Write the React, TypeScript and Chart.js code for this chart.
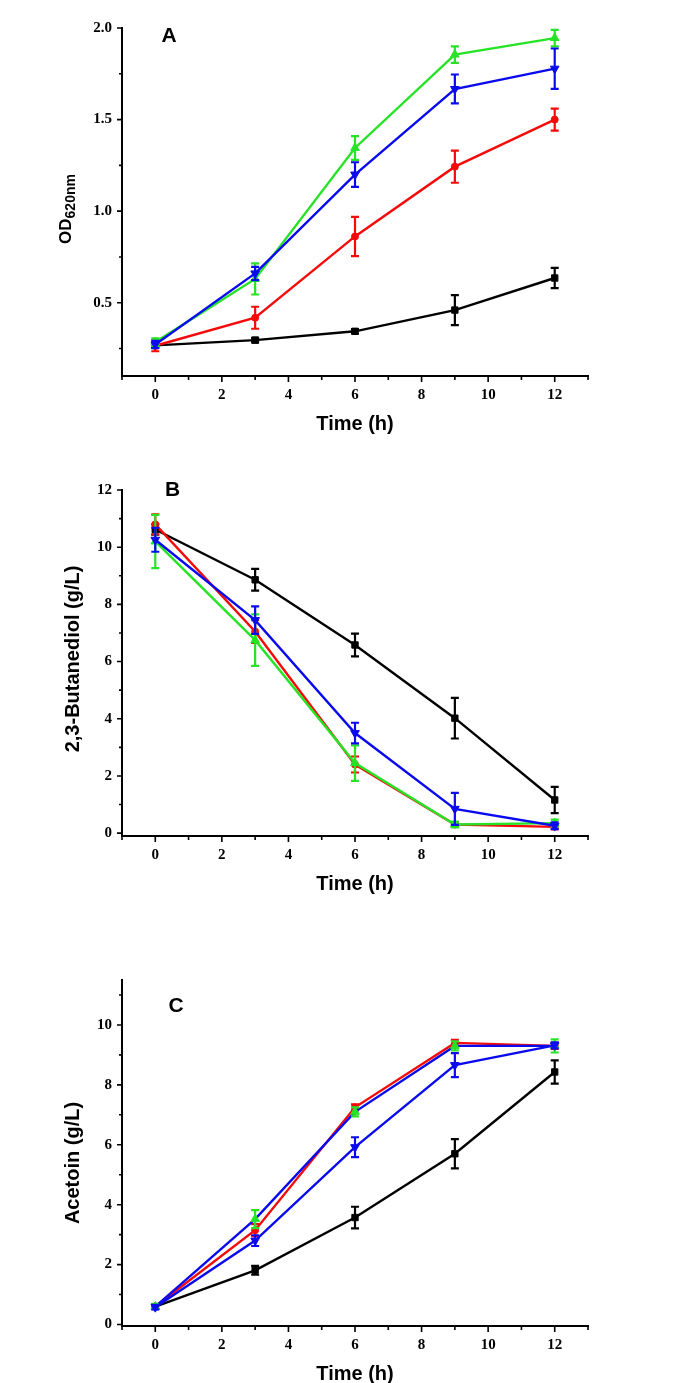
import React, { useEffect, useRef } from "react";
import { Chart, registerables } from "chart.js";

Chart.register(...registerables);

// ---------- shared data ----------
const timeH = [0, 3, 6, 9, 12];
const xMajorTicks = [0, 2, 4, 6, 8, 10, 12];
const xMinorTicks = [-1, 1, 3, 5, 7, 9, 11, 13];

// ---------- Panel A: OD620nm ----------
const odBlack = [0.267, 0.296, 0.344, 0.46, 0.635];
const odBlackErr = [0.012, 0.012, 0.012, 0.082, 0.055];
const odRed = [0.265, 0.418, 0.862, 1.243, 1.5];
const odRedErr = [0.03, 0.06, 0.107, 0.088, 0.06];
const odGreen = [0.285, 0.63, 1.345, 1.855, 1.945];
const odGreenErr = [0.02, 0.085, 0.065, 0.045, 0.045];
const odBlue = [0.272, 0.66, 1.2, 1.667, 1.778];
const odBlueErr = [0.02, 0.036, 0.067, 0.079, 0.11];
const odMajorTicks = [0.5, 1.0, 1.5, 2.0];
const odMinorTicks = [0.25, 0.75, 1.25, 1.75];

// ---------- Panel B: 2,3-Butanediol ----------
const bdoBlack = [10.62, 8.86, 6.58, 4.02, 1.16];
const bdoBlackErr = [0.18, 0.38, 0.4, 0.71, 0.46];
const bdoRed = [10.8, 7.05, 2.4, 0.3, 0.22];
const bdoRedErr = [0.35, 0.4, 0.28, 0.08, 0.08];
const bdoGreen = [10.2, 6.75, 2.45, 0.3, 0.35];
const bdoGreenErr = [0.93, 0.9, 0.62, 0.1, 0.12];
const bdoBlue = [10.26, 7.45, 3.5, 0.85, 0.26];
const bdoBlueErr = [0.42, 0.48, 0.36, 0.56, 0.12];
const bdoMajorTicks = [0, 2, 4, 6, 8, 10, 12];
const bdoMinorTicks = [1, 3, 5, 7, 9, 11];

// ---------- Panel C: Acetoin ----------
const actBlack = [0.6, 1.81, 3.57, 5.7, 8.43];
const actBlackErr = [0.08, 0.15, 0.36, 0.49, 0.39];
const actRed = [0.6, 3.15, 7.25, 9.4, 9.3];
const actRedErr = [0.08, 0.2, 0.1, 0.1, 0.1];
const actGreen = [0.6, 3.52, 7.1, 9.3, 9.3];
const actGreenErr = [0.08, 0.3, 0.15, 0.15, 0.22];
const actBlue = [0.58, 2.8, 5.92, 8.66, 9.32];
const actBlueErr = [0.08, 0.18, 0.33, 0.4, 0.1];
const actMajorTicks = [0, 2, 4, 6, 8, 10];
const actMinorTicks = [1, 3, 5, 7, 9, 11];

const BLACK = "#000000";
const RED = "#f50a0a";
const GREEN = "#26e326";
const BLUE = "#0a0aee";

const SERIF = "'Liberation Serif', 'Times New Roman', serif";
const SANS = "'Liberation Sans', Arial, sans-serif";

function series(
  values: number[],
  errs: number[],
  color: string,
  pointStyle: string,
  radius: number,
  rotation = 0,
  lineColor?: string
) {
  return {
    data: timeH.map((t, i) => ({ x: t, y: values[i] })),
    err: errs,
    errColor: color,
    borderColor: lineColor ?? color,
    backgroundColor: color,
    pointBackgroundColor: color,
    pointBorderColor: color,
    pointBorderWidth: 1,
    pointStyle,
    rotation,
    pointRadius: radius,
    borderWidth: 2.4,
    tension: 0,
    fill: false,
  };
}

const errorBarPlugin = {
  id: "errorBars",
  afterDatasetDraw(chart: any, args: any) {
    const ds = chart.data.datasets[args.index];
    if (!ds.err) return;
    const ys = chart.scales.y;
    const ctx = chart.ctx;
    ctx.save();
    ctx.strokeStyle = ds.errColor;
    ctx.lineWidth = 2.2;
    ctx.beginPath();
    args.meta.data.forEach((pt: any, i: number) => {
      const v = ds.data[i].y;
      const e = ds.err[i];
      const x = pt.x;
      const y1 = ys.getPixelForValue(v + e);
      const y2 = ys.getPixelForValue(v - e);
      ctx.moveTo(x, y1);
      ctx.lineTo(x, y2);
      ctx.moveTo(x - 4, y1);
      ctx.lineTo(x + 4, y1);
      ctx.moveTo(x - 4, y2);
      ctx.lineTo(x + 4, y2);
    });
    ctx.stroke();
    ctx.restore();
  },
};

type PanelCfg = {
  key: string;
  letter: string;
  letterDx: number;
  letterDy: number;
  canvasTop: number;
  canvasHeight: number;
  yMin: number;
  yMax: number;
  yMajor: number[];
  yMinor: number[];
  yFmt: (v: number) => string;
  yTitle: string;
  ySub?: string;
  yTitleX: number;
  yTitleDy: number;
  datasets: any[];
};

function makeDecor(cfg: PanelCfg) {
  return {
    id: "decor" + cfg.key,
    afterDraw(chart: any) {
      const { ctx, chartArea: a } = chart;
      const x = chart.scales.x;
      const y = chart.scales.y;
      ctx.save();
      ctx.strokeStyle = "#000";
      ctx.lineWidth = 1.6;
      ctx.beginPath();
      xMajorTicks.forEach((v) => {
        const px = x.getPixelForValue(v);
        ctx.moveTo(px, a.bottom);
        ctx.lineTo(px, a.bottom + 6);
      });
      xMinorTicks.forEach((v) => {
        const px = x.getPixelForValue(v);
        ctx.moveTo(px, a.bottom);
        ctx.lineTo(px, a.bottom + 4);
      });
      cfg.yMajor.forEach((v) => {
        const py = y.getPixelForValue(v);
        ctx.moveTo(a.left, py);
        ctx.lineTo(a.left - 5, py);
      });
      cfg.yMinor.forEach((v) => {
        const py = y.getPixelForValue(v);
        ctx.moveTo(a.left, py);
        ctx.lineTo(a.left - 3, py);
      });
      ctx.stroke();

      // panel letter
      ctx.fillStyle = "#000";
      ctx.font = `bold 21px ${SANS}`;
      ctx.textAlign = "center";
      ctx.textBaseline = "alphabetic";
      ctx.fillText(cfg.letter, a.left + cfg.letterDx, a.top + cfg.letterDy);

      // y title
      const cy = (a.top + a.bottom) / 2 + cfg.yTitleDy;
      ctx.translate(cfg.yTitleX, cy);
      ctx.rotate(-Math.PI / 2);
      if (cfg.ySub) {
        ctx.textAlign = "left";
        ctx.textBaseline = "alphabetic";
        ctx.font = `bold 17px ${SANS}`;
        const w1 = ctx.measureText(cfg.yTitle).width;
        ctx.font = `bold 14px ${SANS}`;
        const w2 = ctx.measureText(cfg.ySub).width;
        const sx = -(w1 + w2) / 2;
        ctx.font = `bold 17px ${SANS}`;
        ctx.fillText(cfg.yTitle, sx, 0);
        ctx.font = `bold 14px ${SANS}`;
        ctx.fillText(cfg.ySub, sx + w1, 4);
      } else {
        ctx.textAlign = "center";
        ctx.textBaseline = "middle";
        ctx.font = `bold 20px ${SANS}`;
        ctx.fillText(cfg.yTitle, 0, 0);
      }
      ctx.restore();
    },
  };
}

function buildConfig(cfg: PanelCfg): any {
  const tickFont = { family: SERIF, weight: "bold" as const, size: 15 };
  return {
    type: "line",
    data: { datasets: cfg.datasets },
    options: {
      responsive: false,
      animation: false,
      devicePixelRatio: 1,
      layout: { padding: { left: 0, right: 97, top: 28, bottom: 4 } },
      plugins: {
        legend: { display: false },
        tooltip: { enabled: false },
      },
      scales: {
        x: {
          type: "linear",
          min: -1,
          max: 13,
          afterBuildTicks: (s: any) => {
            s.ticks = xMajorTicks.map((v) => ({ value: v }));
          },
          afterFit: (s: any) => {
            s.height = 60;
          },
          grid: { display: true, drawOnChartArea: false, drawTicks: false },
          border: { display: true, color: "#000", width: 2 },
          ticks: {
            padding: 10,
            color: "#000",
            font: tickFont,
            autoSkip: false,
            maxRotation: 0,
            callback: (v: any) => String(v),
          },
          title: {
            display: true,
            text: "Time (h)",
            color: "#000",
            font: { family: SANS, weight: "bold", size: 20 },
            padding: { top: 0, bottom: 0 },
          },
        },
        y: {
          type: "linear",
          min: cfg.yMin,
          max: cfg.yMax,
          afterBuildTicks: (s: any) => {
            s.ticks = cfg.yMajor.map((v) => ({ value: v }));
          },
          afterFit: (s: any) => {
            s.width = 122;
          },
          grid: { display: true, drawOnChartArea: false, drawTicks: false },
          border: { display: true, color: "#000", width: 2 },
          ticks: {
            padding: 10,
            color: "#000",
            font: tickFont,
            autoSkip: false,
            callback: (v: any) => cfg.yFmt(Number(v)),
          },
        },
      },
    },
    plugins: [errorBarPlugin, makeDecor(cfg)],
  };
}

const panels: PanelCfg[] = [
  {
    key: "A",
    letter: "A",
    letterDx: 47,
    letterDy: 13.6,
    canvasTop: 0,
    canvasHeight: 440,
    yMin: 0.1,
    yMax: 2.0,
    yMajor: odMajorTicks,
    yMinor: odMinorTicks,
    yFmt: (v) => v.toFixed(1),
    yTitle: "OD",
    ySub: "620nm",
    yTitleX: 71,
    yTitleDy: 7,
    datasets: [
      series(odBlue, odBlueErr, BLUE, "triangle", 5, 180),
      series(odGreen, odGreenErr, GREEN, "triangle", 5),
      series(odRed, odRedErr, RED, "circle", 3.5),
      series(odBlack, odBlackErr, BLACK, "rect", 4.5),
    ],
  },
  {
    key: "B",
    letter: "B",
    letterDx: 50.5,
    letterDy: 6,
    canvasTop: 462,
    canvasHeight: 438,
    yMin: -0.1,
    yMax: 12,
    yMajor: bdoMajorTicks,
    yMinor: bdoMinorTicks,
    yFmt: (v) => String(v),
    yTitle: "2,3-Butanediol (g/L)",
    yTitleX: 73,
    yTitleDy: -4,
    datasets: [
      series(bdoBlue, bdoBlueErr, BLUE, "triangle", 5, 180),
      series(bdoGreen, bdoGreenErr, GREEN, "triangle", 5),
      series(bdoRed, bdoRedErr, RED, "circle", 3.5),
      series(bdoBlack, bdoBlackErr, BLACK, "rect", 4.5),
    ],
  },
  {
    key: "C",
    letter: "C",
    letterDx: 54,
    letterDy: 32,
    canvasTop: 952,
    canvasHeight: 438,
    yMin: -0.05,
    yMax: 11.5,
    yMajor: actMajorTicks,
    yMinor: actMinorTicks,
    yFmt: (v) => String(v),
    yTitle: "Acetoin (g/L)",
    yTitleX: 73,
    yTitleDy: 10,
    datasets: [
      series(actBlue, actBlueErr, BLUE, "triangle", 5, 180),
      series(actGreen, actGreenErr, GREEN, "triangle", 5, 0, BLUE),
      series(actRed, actRedErr, RED, "circle", 3.5),
      series(actBlack, actBlackErr, BLACK, "rect", 4.5),
    ],
  },
];

function Panel({ cfg }: { cfg: PanelCfg }) {
  const ref = useRef<HTMLCanvasElement | null>(null);
  useEffect(() => {
    if (!ref.current) return;
    const chart = new Chart(ref.current, buildConfig(cfg));
    return () => chart.destroy();
  }, [cfg]);
  return (
    <canvas
      ref={ref}
      width={685}
      height={cfg.canvasHeight}
      style={{
        position: "absolute",
        left: 0,
        top: cfg.canvasTop,
        width: 685,
        height: cfg.canvasHeight,
      }}
    />
  );
}

export default function App() {
  return (
    <div
      style={{
        position: "fixed",
        left: 0,
        top: 0,
        width: 685,
        height: 1383,
        overflow: "hidden",
        background: "#ffffff",
      }}
    >
      {panels.map((p) => (
        <Panel key={p.key} cfg={p} />
      ))}
    </div>
  );
}
